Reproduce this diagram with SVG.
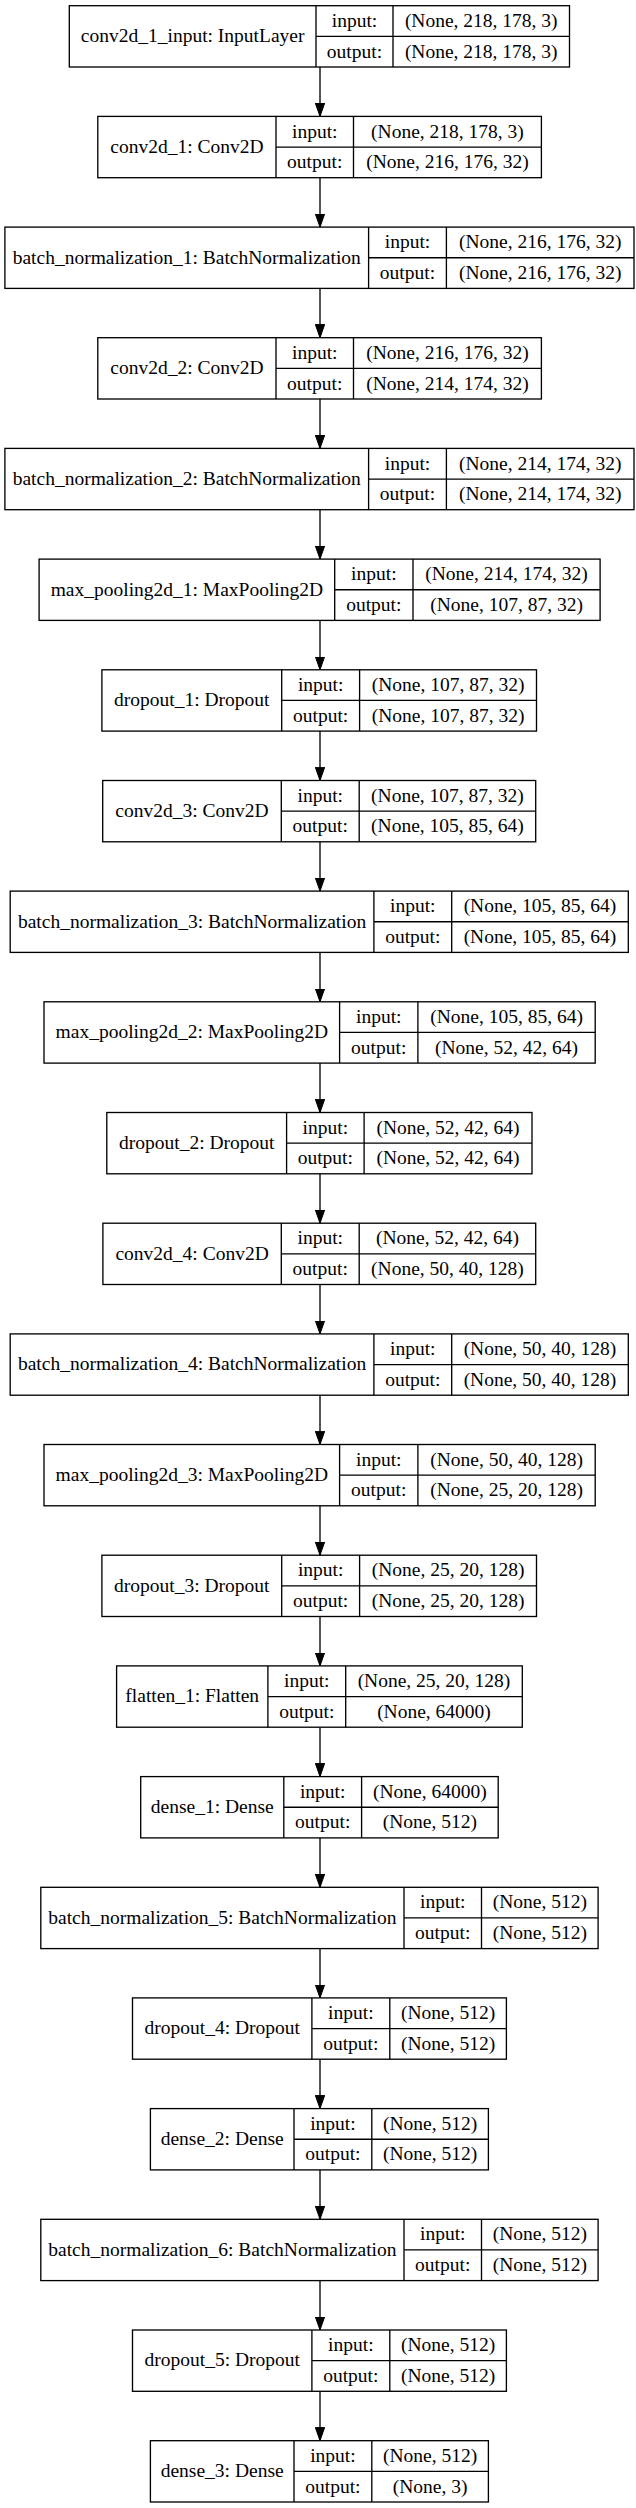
<svg xmlns="http://www.w3.org/2000/svg" width="636" height="2508" viewBox="0 0 636 2508">
<style>
.b{fill:none;stroke:#000;stroke-width:1.33}
text{font-family:"Liberation Serif","Times New Roman",serif;font-size:19.5px;text-anchor:middle;fill:#000}
.e{fill:none;stroke:#000;stroke-width:1.33}
</style>
<defs>
<marker id="ah" markerUnits="userSpaceOnUse" markerWidth="14" markerHeight="10" refX="13.3" refY="4.7" orient="auto" viewBox="0 0 14 10">
<path d="M0,0 L13.3,4.7 L0,9.4 z" fill="#000" stroke="#000" stroke-width="1"/>
</marker>
</defs>
<rect width="636" height="2508" fill="#fff"/>
<g id="connectors">
<path class="e" marker-end="url(#ah)" d="M320,67 V116.4"/>
<path class="e" marker-end="url(#ah)" d="M320,177.7 V227.1"/>
<path class="e" marker-end="url(#ah)" d="M320,288.4 V337.7"/>
<path class="e" marker-end="url(#ah)" d="M320,399 V448.4"/>
<path class="e" marker-end="url(#ah)" d="M320,509.7 V559.1"/>
<path class="e" marker-end="url(#ah)" d="M320,620.4 V669.8"/>
<path class="e" marker-end="url(#ah)" d="M320,731.1 V780.5"/>
<path class="e" marker-end="url(#ah)" d="M320,841.8 V891.1"/>
<path class="e" marker-end="url(#ah)" d="M320,952.4 V1001.8"/>
<path class="e" marker-end="url(#ah)" d="M320,1063.1 V1112.5"/>
<path class="e" marker-end="url(#ah)" d="M320,1173.8 V1223.2"/>
<path class="e" marker-end="url(#ah)" d="M320,1284.5 V1333.9"/>
<path class="e" marker-end="url(#ah)" d="M320,1395.2 V1444.5"/>
<path class="e" marker-end="url(#ah)" d="M320,1505.8 V1555.2"/>
<path class="e" marker-end="url(#ah)" d="M320,1616.5 V1665.9"/>
<path class="e" marker-end="url(#ah)" d="M320,1727.2 V1776.6"/>
<path class="e" marker-end="url(#ah)" d="M320,1837.9 V1887.3"/>
<path class="e" marker-end="url(#ah)" d="M320,1948.6 V1997.9"/>
<path class="e" marker-end="url(#ah)" d="M320,2059.2 V2108.6"/>
<path class="e" marker-end="url(#ah)" d="M320,2169.9 V2219.3"/>
<path class="e" marker-end="url(#ah)" d="M320,2280.6 V2330"/>
<path class="e" marker-end="url(#ah)" d="M320,2391.3 V2440.7"/>
</g>
<g id="n1">
<rect class="b" x="69.3" y="5.7" width="500.2" height="61.3"/>
<path class="b" d="M316,5.7 V67 M393,5.7 V67 M316,36.35 H569.5"/>
<text x="192.65" y="42.1">conv2d_1_input: InputLayer</text>
<text x="354.5" y="26.8">input:</text><text x="354.5" y="57.5">output:</text>
<text x="481.25" y="26.8">(None, 218, 178, 3)</text><text x="481.25" y="57.5">(None, 218, 178, 3)</text>
</g>
<g id="n2">
<rect class="b" x="97.8" y="116.4" width="443.6" height="61.3"/>
<path class="b" d="M276,116.4 V177.7 M353.5,116.4 V177.7 M276,147.05 H541.4"/>
<text x="186.9" y="152.8">conv2d_1: Conv2D</text>
<text x="314.75" y="137.5">input:</text><text x="314.75" y="168.2">output:</text>
<text x="447.45" y="137.5">(None, 218, 178, 3)</text><text x="447.45" y="168.2">(None, 216, 176, 32)</text>
</g>
<g id="n3">
<rect class="b" x="4.9" y="227.1" width="629.1" height="61.3"/>
<path class="b" d="M368.6,227.1 V288.4 M446.4,227.1 V288.4 M368.6,257.75 H634"/>
<text x="186.75" y="263.5">batch_normalization_1: BatchNormalization</text>
<text x="407.5" y="248.2">input:</text><text x="407.5" y="278.9">output:</text>
<text x="540.2" y="248.2">(None, 216, 176, 32)</text><text x="540.2" y="278.9">(None, 216, 176, 32)</text>
</g>
<g id="n4">
<rect class="b" x="97.8" y="337.7" width="443.6" height="61.3"/>
<path class="b" d="M276,337.7 V399 M353.5,337.7 V399 M276,368.35 H541.4"/>
<text x="186.9" y="374.1">conv2d_2: Conv2D</text>
<text x="314.75" y="358.8">input:</text><text x="314.75" y="389.5">output:</text>
<text x="447.45" y="358.8">(None, 216, 176, 32)</text><text x="447.45" y="389.5">(None, 214, 174, 32)</text>
</g>
<g id="n5">
<rect class="b" x="4.9" y="448.4" width="629.1" height="61.3"/>
<path class="b" d="M368.6,448.4 V509.7 M446.4,448.4 V509.7 M368.6,479.05 H634"/>
<text x="186.75" y="484.8">batch_normalization_2: BatchNormalization</text>
<text x="407.5" y="469.5">input:</text><text x="407.5" y="500.2">output:</text>
<text x="540.2" y="469.5">(None, 214, 174, 32)</text><text x="540.2" y="500.2">(None, 214, 174, 32)</text>
</g>
<g id="n6">
<rect class="b" x="39.1" y="559.1" width="561" height="61.3"/>
<path class="b" d="M334.7,559.1 V620.4 M413,559.1 V620.4 M334.7,589.75 H600.1"/>
<text x="186.9" y="595.5">max_pooling2d_1: MaxPooling2D</text>
<text x="373.85" y="580.2">input:</text><text x="373.85" y="610.9">output:</text>
<text x="506.55" y="580.2">(None, 214, 174, 32)</text><text x="506.55" y="610.9">(None, 107, 87, 32)</text>
</g>
<g id="n7">
<rect class="b" x="101.9" y="669.8" width="434.6" height="61.3"/>
<path class="b" d="M281.7,669.8 V731.1 M359.6,669.8 V731.1 M281.7,700.45 H536.5"/>
<text x="191.8" y="706.2">dropout_1: Dropout</text>
<text x="320.65" y="690.9">input:</text><text x="320.65" y="721.6">output:</text>
<text x="448.05" y="690.9">(None, 107, 87, 32)</text><text x="448.05" y="721.6">(None, 107, 87, 32)</text>
</g>
<g id="n8">
<rect class="b" x="102.7" y="780.5" width="433" height="61.3"/>
<path class="b" d="M281.3,780.5 V841.8 M359.2,780.5 V841.8 M281.3,811.15 H535.7"/>
<text x="192" y="816.9">conv2d_3: Conv2D</text>
<text x="320.25" y="801.6">input:</text><text x="320.25" y="832.3">output:</text>
<text x="447.45" y="801.6">(None, 107, 87, 32)</text><text x="447.45" y="832.3">(None, 105, 85, 64)</text>
</g>
<g id="n9">
<rect class="b" x="10.2" y="891.1" width="618.1" height="61.3"/>
<path class="b" d="M373.9,891.1 V952.4 M451.7,891.1 V952.4 M373.9,921.75 H628.3"/>
<text x="192.05" y="927.5">batch_normalization_3: BatchNormalization</text>
<text x="412.8" y="912.2">input:</text><text x="412.8" y="942.9">output:</text>
<text x="540" y="912.2">(None, 105, 85, 64)</text><text x="540" y="942.9">(None, 105, 85, 64)</text>
</g>
<g id="n10">
<rect class="b" x="44" y="1001.8" width="551.2" height="61.3"/>
<path class="b" d="M339.6,1001.8 V1063.1 M417.9,1001.8 V1063.1 M339.6,1032.45 H595.2"/>
<text x="191.8" y="1038.2">max_pooling2d_2: MaxPooling2D</text>
<text x="378.75" y="1022.9">input:</text><text x="378.75" y="1053.6">output:</text>
<text x="506.55" y="1022.9">(None, 105, 85, 64)</text><text x="506.55" y="1053.6">(None, 52, 42, 64)</text>
</g>
<g id="n11">
<rect class="b" x="106.8" y="1112.5" width="425.2" height="61.3"/>
<path class="b" d="M286.6,1112.5 V1173.8 M364.1,1112.5 V1173.8 M286.6,1143.15 H532"/>
<text x="196.7" y="1148.9">dropout_2: Dropout</text>
<text x="325.35" y="1133.6">input:</text><text x="325.35" y="1164.3">output:</text>
<text x="448.05" y="1133.6">(None, 52, 42, 64)</text><text x="448.05" y="1164.3">(None, 52, 42, 64)</text>
</g>
<g id="n12">
<rect class="b" x="102.9" y="1223.2" width="432.8" height="61.3"/>
<path class="b" d="M281.3,1223.2 V1284.5 M359.2,1223.2 V1284.5 M281.3,1253.85 H535.7"/>
<text x="192.1" y="1259.6">conv2d_4: Conv2D</text>
<text x="320.25" y="1244.3">input:</text><text x="320.25" y="1275">output:</text>
<text x="447.45" y="1244.3">(None, 52, 42, 64)</text><text x="447.45" y="1275">(None, 50, 40, 128)</text>
</g>
<g id="n13">
<rect class="b" x="10.2" y="1333.9" width="618.1" height="61.3"/>
<path class="b" d="M373.9,1333.9 V1395.2 M451.7,1333.9 V1395.2 M373.9,1364.55 H628.3"/>
<text x="192.05" y="1370.3">batch_normalization_4: BatchNormalization</text>
<text x="412.8" y="1355">input:</text><text x="412.8" y="1385.7">output:</text>
<text x="540" y="1355">(None, 50, 40, 128)</text><text x="540" y="1385.7">(None, 50, 40, 128)</text>
</g>
<g id="n14">
<rect class="b" x="44" y="1444.5" width="551.2" height="61.3"/>
<path class="b" d="M339.6,1444.5 V1505.8 M417.9,1444.5 V1505.8 M339.6,1475.15 H595.2"/>
<text x="191.8" y="1480.9">max_pooling2d_3: MaxPooling2D</text>
<text x="378.75" y="1465.6">input:</text><text x="378.75" y="1496.3">output:</text>
<text x="506.55" y="1465.6">(None, 50, 40, 128)</text><text x="506.55" y="1496.3">(None, 25, 20, 128)</text>
</g>
<g id="n15">
<rect class="b" x="101.9" y="1555.2" width="434.6" height="61.3"/>
<path class="b" d="M281.7,1555.2 V1616.5 M359.6,1555.2 V1616.5 M281.7,1585.85 H536.5"/>
<text x="191.8" y="1591.6">dropout_3: Dropout</text>
<text x="320.65" y="1576.3">input:</text><text x="320.65" y="1607">output:</text>
<text x="448.05" y="1576.3">(None, 25, 20, 128)</text><text x="448.05" y="1607">(None, 25, 20, 128)</text>
</g>
<g id="n16">
<rect class="b" x="116.6" y="1665.9" width="405.7" height="61.3"/>
<path class="b" d="M267.9,1665.9 V1727.2 M345.7,1665.9 V1727.2 M267.9,1696.55 H522.3"/>
<text x="192.25" y="1702.3">flatten_1: Flatten</text>
<text x="306.8" y="1687">input:</text><text x="306.8" y="1717.7">output:</text>
<text x="434" y="1687">(None, 25, 20, 128)</text><text x="434" y="1717.7">(None, 64000)</text>
</g>
<g id="n17">
<rect class="b" x="140.7" y="1776.6" width="357.5" height="61.3"/>
<path class="b" d="M283.8,1776.6 V1837.9 M361.6,1776.6 V1837.9 M283.8,1807.25 H498.2"/>
<text x="212.25" y="1813">dense_1: Dense</text>
<text x="322.7" y="1797.7">input:</text><text x="322.7" y="1828.4">output:</text>
<text x="429.9" y="1797.7">(None, 64000)</text><text x="429.9" y="1828.4">(None, 512)</text>
</g>
<g id="n18">
<rect class="b" x="40.8" y="1887.3" width="557.3" height="61.3"/>
<path class="b" d="M404,1887.3 V1948.6 M481.5,1887.3 V1948.6 M404,1917.95 H598.1"/>
<text x="222.4" y="1923.7">batch_normalization_5: BatchNormalization</text>
<text x="442.75" y="1908.4">input:</text><text x="442.75" y="1939.1">output:</text>
<text x="539.8" y="1908.4">(None, 512)</text><text x="539.8" y="1939.1">(None, 512)</text>
</g>
<g id="n19">
<rect class="b" x="132.5" y="1997.9" width="373.9" height="61.3"/>
<path class="b" d="M311.9,1997.9 V2059.2 M389.8,1997.9 V2059.2 M311.9,2028.55 H506.4"/>
<text x="222.2" y="2034.3">dropout_4: Dropout</text>
<text x="350.85" y="2019">input:</text><text x="350.85" y="2049.7">output:</text>
<text x="448.1" y="2019">(None, 512)</text><text x="448.1" y="2049.7">(None, 512)</text>
</g>
<g id="n20">
<rect class="b" x="150.4" y="2108.6" width="338" height="61.3"/>
<path class="b" d="M294,2108.6 V2169.9 M371.8,2108.6 V2169.9 M294,2139.25 H488.4"/>
<text x="222.2" y="2145">dense_2: Dense</text>
<text x="332.9" y="2129.7">input:</text><text x="332.9" y="2160.4">output:</text>
<text x="430.1" y="2129.7">(None, 512)</text><text x="430.1" y="2160.4">(None, 512)</text>
</g>
<g id="n21">
<rect class="b" x="40.8" y="2219.3" width="557.3" height="61.3"/>
<path class="b" d="M404,2219.3 V2280.6 M481.5,2219.3 V2280.6 M404,2249.95 H598.1"/>
<text x="222.4" y="2255.7">batch_normalization_6: BatchNormalization</text>
<text x="442.75" y="2240.4">input:</text><text x="442.75" y="2271.1">output:</text>
<text x="539.8" y="2240.4">(None, 512)</text><text x="539.8" y="2271.1">(None, 512)</text>
</g>
<g id="n22">
<rect class="b" x="132.5" y="2330" width="373.9" height="61.3"/>
<path class="b" d="M311.9,2330 V2391.3 M389.8,2330 V2391.3 M311.9,2360.65 H506.4"/>
<text x="222.2" y="2366.4">dropout_5: Dropout</text>
<text x="350.85" y="2351.1">input:</text><text x="350.85" y="2381.8">output:</text>
<text x="448.1" y="2351.1">(None, 512)</text><text x="448.1" y="2381.8">(None, 512)</text>
</g>
<g id="n23">
<rect class="b" x="150.4" y="2440.7" width="338" height="61.3"/>
<path class="b" d="M294,2440.7 V2502 M371.8,2440.7 V2502 M294,2471.35 H488.4"/>
<text x="222.2" y="2477.1">dense_3: Dense</text>
<text x="332.9" y="2461.8">input:</text><text x="332.9" y="2492.5">output:</text>
<text x="430.1" y="2461.8">(None, 512)</text><text x="430.1" y="2492.5">(None, 3)</text>
</g>
</svg>
